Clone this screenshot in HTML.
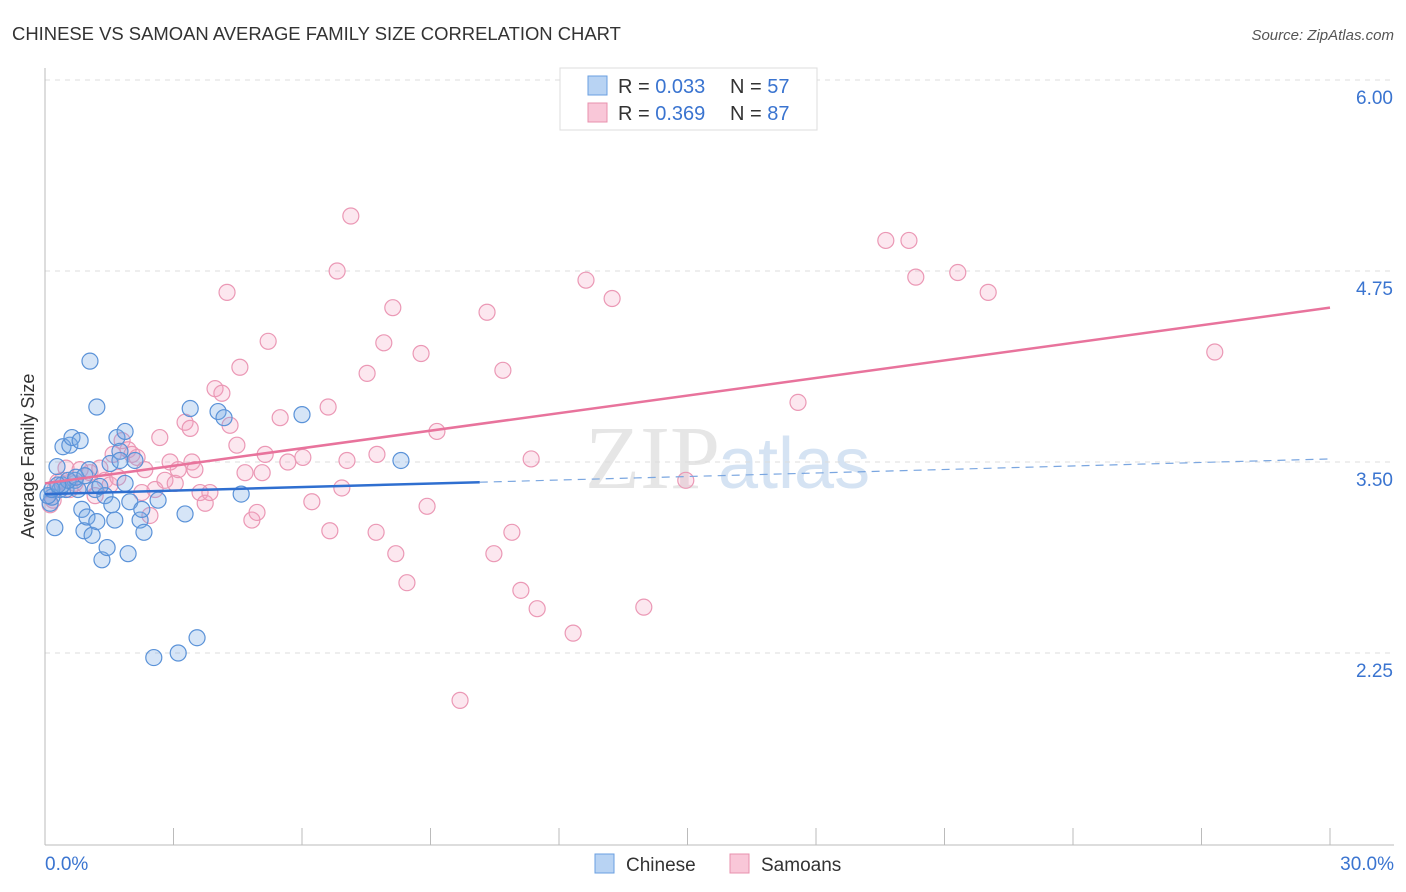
<!DOCTYPE html>
<html><head><meta charset="utf-8"><style>
body{margin:0;background:#fff;font-family:"Liberation Sans",sans-serif;}
svg{display:block}
</style></head><body>
<svg id="chart" width="1406" height="892">
<text x="12" y="40" font-size="18.45" fill="#333">CHINESE VS SAMOAN AVERAGE FAMILY SIZE CORRELATION CHART</text>
<text x="1394" y="40" font-size="15" fill="#555" text-anchor="end" font-style="italic">Source: ZipAtlas.com</text>
<text x="720" y="488" font-size="90" fill="#e6e6e6" text-anchor="end" font-family="Liberation Serif">ZIP</text>
<text x="718" y="488" font-size="72" fill="#d5e3f3">atlas</text>
<g id="grid"></g><g id="axes"></g><g id="pts"></g><g id="lines"></g>
<text transform="translate(34,456) rotate(-90)" font-size="18" fill="#333" text-anchor="middle">Average Family Size</text>
<g>
<rect x="560" y="68" width="257" height="62" fill="#fff" stroke="#ddd"/>
<rect x="588" y="76" width="19" height="19" fill="#b8d3f3" stroke="#6a9fe0"/>
<rect x="588" y="103" width="19" height="19" fill="#f9c7d8" stroke="#e890ae"/>
<text x="618" y="93" font-size="20" fill="#333">R = <tspan fill="#3a74d0">0.033</tspan></text>
<text x="730" y="93" font-size="20" fill="#333">N = <tspan fill="#3a74d0">57</tspan></text>
<text x="618" y="120" font-size="20" fill="#333">R = <tspan fill="#3a74d0">0.369</tspan></text>
<text x="730" y="120" font-size="20" fill="#333">N = <tspan fill="#3a74d0">87</tspan></text>
</g>
<g>
<rect x="595" y="854" width="19" height="19" fill="#b8d3f3" stroke="#6a9fe0"/>
<text x="626" y="871" font-size="19" fill="#333">Chinese</text>
<rect x="730" y="854" width="19" height="19" fill="#f9c7d8" stroke="#e890ae"/>
<text x="761" y="871" font-size="19" fill="#333">Samoans</text>
</g>
</svg>
<script>
const yTicks=[6.00,4.75,3.50,2.25];
const yTickLabels=["6.00","4.75","3.50","2.25"];
const xTicks=[0,3,6,9,12,15,18,21,24,27,30];
const chineseX=[0.12,0.16,0.23,0.28,0.35,0.42,0.49,0.58,0.63,0.70,0.77,0.82,0.86,0.91,0.98,1.03,1.05,1.10,1.17,1.21,1.21,1.33,1.40,1.45,1.56,1.63,1.68,1.75,1.87,1.87,1.94,1.98,2.10,2.22,2.26,2.31,2.54,2.64,3.11,3.27,3.39,3.55,4.04,4.18,4.58,6.00,8.31,0.07,0.40,0.54,0.72,1.28,1.52,0.16,0.30,0.93,1.75];
const chineseY=[3.23,3.27,3.07,3.47,3.32,3.60,3.32,3.61,3.66,3.38,3.32,3.64,3.19,3.05,3.14,3.45,4.16,3.02,3.32,3.11,3.86,2.86,3.28,2.94,3.22,3.12,3.66,3.57,3.70,3.36,2.90,3.24,3.51,3.12,3.19,3.04,2.22,3.25,2.25,3.16,3.85,2.35,3.83,3.79,3.29,3.81,3.51,3.28,3.35,3.38,3.40,3.34,3.49,3.32,3.35,3.41,3.51];
const samoanX=[0.12,0.19,0.23,0.30,0.40,0.49,0.58,0.70,0.82,0.93,1.05,1.17,1.28,1.40,1.52,1.59,1.70,1.80,1.94,2.03,2.15,2.26,2.33,2.45,2.57,2.68,2.80,2.92,3.04,3.11,3.27,3.39,3.43,3.50,3.62,3.74,3.85,3.97,4.13,4.25,4.32,4.48,4.55,4.67,4.83,4.95,5.07,5.14,5.21,5.49,5.67,6.02,6.23,6.61,6.65,6.82,6.93,7.05,7.14,7.52,7.73,7.75,7.91,8.12,8.19,8.45,8.78,8.92,9.15,9.69,10.32,10.48,10.69,10.90,11.11,11.35,11.49,12.33,12.63,13.24,13.98,14.96,17.58,19.63,20.17,20.33,21.31,22.02,27.31];
const samoanY=[3.22,3.25,3.32,3.37,3.38,3.46,3.32,3.36,3.45,3.35,3.43,3.28,3.46,3.38,3.35,3.55,3.40,3.64,3.58,3.55,3.53,3.30,3.45,3.15,3.32,3.66,3.38,3.50,3.36,3.45,3.76,3.72,3.50,3.45,3.30,3.23,3.30,3.98,3.95,4.61,3.74,3.61,4.12,3.43,3.12,3.17,3.43,3.55,4.29,3.79,3.50,3.53,3.24,3.86,3.05,4.75,3.33,3.51,5.11,4.08,3.04,3.55,4.28,4.51,2.90,2.71,4.21,3.21,3.70,1.94,4.48,2.90,4.10,3.04,2.66,3.52,2.54,2.38,4.69,4.57,2.55,3.38,3.89,4.95,4.95,4.71,4.74,4.61,4.22];
const chineseTrend=[3.29,3.52];
const chineseSolidEnd=10.15;
const samoanTrend=[3.36,4.51];
const NS="http://www.w3.org/2000/svg";
const X=v=>45+v/30*1285;
const Y=v=>80+(6-v)*152.8;
function mk(tag,attrs,parent){const e=document.createElementNS(NS,tag);for(const k in attrs)e.setAttribute(k,attrs[k]);parent.appendChild(e);return e;}
const grid=document.getElementById('grid'),axes=document.getElementById('axes'),pts=document.getElementById('pts'),lines=document.getElementById('lines');
yTicks.forEach((t,i)=>{
 const g=mk('line',{x1:45,x2:1394,y1:Y(t),y2:Y(t),stroke:'#dcdcdc','stroke-dasharray':'5,5'},grid);
 
 
 const l=mk('text',{x:1393,y:Y(t)+24,'font-size':19,fill:'#3a74d0','text-anchor':'end'},axes);
 l.textContent=yTickLabels[i];
 
 
});
const ax=mk('line',{x1:45,x2:45,y1:68,y2:845,stroke:'#bbb'},axes);


const bx=mk('line',{x1:45,x2:1394,y1:845,y2:845,stroke:'#bbb'},axes);


xTicks.forEach(t=>{const tk=mk('line',{x1:X(t),x2:X(t),y1:828,y2:845,stroke:'#bbb'},axes);
 
 });
const x0=mk('text',{x:45,y:870,'font-size':19,fill:'#3a74d0'},axes);x0.textContent='0.0%';


const x1=mk('text',{x:1394,y:870,'font-size':19,fill:'#3a74d0','text-anchor':'end'},axes);x1.textContent='30.0%';


samoanX.forEach((v,i)=>{const c=mk('circle',{cx:X(v),cy:Y(samoanY[i]),r:8,fill:'rgba(244,160,190,0.25)',stroke:'#eb98b5','stroke-width':1.2},pts);
 
 });
chineseX.forEach((v,i)=>{const c=mk('circle',{cx:X(v),cy:Y(chineseY[i]),r:8,fill:'rgba(120,170,230,0.3)',stroke:'#5a92d8','stroke-width':1.2},pts);
 
 });
const cy=x=>chineseTrend[0]+(chineseTrend[1]-chineseTrend[0])*x/30;
const l1=mk('line',{x1:X(0),y1:Y(cy(0)),x2:X(chineseSolidEnd),y2:Y(cy(chineseSolidEnd)),stroke:'#2f6fd0','stroke-width':2.5},lines);


const l2=mk('line',{x1:X(chineseSolidEnd),y1:Y(cy(chineseSolidEnd)),x2:X(30),y2:Y(cy(30)),stroke:'#7aa6e0','stroke-width':1.2,'stroke-dasharray':'8,6'},lines);


const l3=mk('line',{x1:X(0),y1:Y(samoanTrend[0]),x2:X(30),y2:Y(samoanTrend[1]),stroke:'#e8739c','stroke-width':2.5},lines);


</script>
</body></html>
